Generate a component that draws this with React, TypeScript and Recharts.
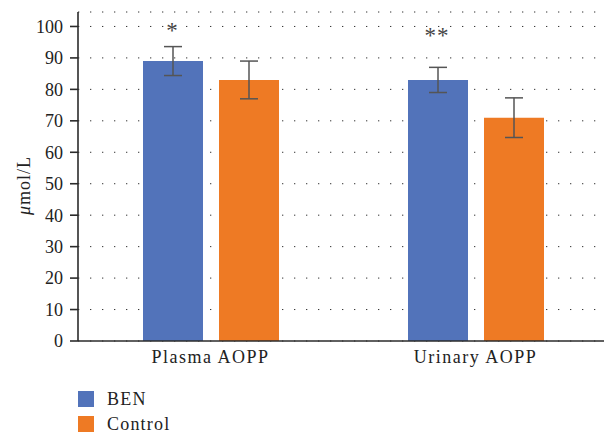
import React from 'react';
import { BarChart, Bar, XAxis, YAxis, CartesianGrid, ErrorBar, LabelList, Legend } from 'recharts';

const categories = ['Plasma AOPP', 'Urinary AOPP'];
const benValues = [89, 83];
const benErrors = [4.6, 4];
const controlValues = [83, 71];
const controlErrors = [6, 6.3];
const significance = ['*', '**'];
const significanceLevels = [99.7, 98.1];
const yTicks = [0, 10, 20, 30, 40, 50, 60, 70, 80, 90, 100];

const FONT = '"Liberation Serif", "Times New Roman", serif';
const BLUE = '#5273BA';
const ORANGE = '#EE7A24';
const AXIS = '#2b2b2b';

const data = categories.map((c, i) => ({
  category: c,
  BEN: benValues[i],
  benErr: benErrors[i],
  Control: controlValues[i],
  controlErr: controlErrors[i],
  sig: significance[i],
}));

const renderSig = (props: any) => {
  const vb = props.viewBox && props.viewBox.width !== undefined ? props.viewBox : props;
  const { x, y, width, height } = vb;
  const idx = significance.indexOf(props.value);
  if (idx < 0) return null;
  const k = height / benValues[idx];
  const base = y + height;
  const cy = base - significanceLevels[idx] * k;
  return (
    <text
      x={x + width / 2 - 1}
      y={cy + 11}
      textAnchor="middle"
      fontFamily={FONT}
      fontSize={23}
      letterSpacing={idx === 1 ? 1 : 0}
      fill="#444"
    >
      {significance[idx]}
    </text>
  );
};

const renderYLabel = (props: any) => {
  const vb = props.viewBox || { x: 0, y: 0, width: 78, height: 300 };
  const cx = vb.x + 24;
  const cy = vb.y + vb.height / 2 + 9;
  return (
    <text
      x={cx}
      y={cy}
      transform={`rotate(-90, ${cx}, ${cy})`}
      textAnchor="middle"
      dominantBaseline="central"
      fontFamily={FONT}
      fontSize={18}
      fill="#222"
      letterSpacing={1}
    >
      <tspan fontStyle="italic">μ</tspan>
      <tspan>mol/L</tspan>
    </text>
  );
};

const renderLegend = (props: any) => {
  const payload = props.payload || [];
  return (
    <div style={{ fontFamily: FONT, fontSize: 18, color: '#222' }}>
      {payload.map((p: any) => (
        <div key={p.value} style={{ display: 'flex', alignItems: 'center', height: 25 }}>
          <span
            style={{ display: 'inline-block', width: 16, height: 16, background: p.color, marginRight: 13 }}
          />
          <span style={{ letterSpacing: 1.2, lineHeight: '22px' }}>{p.value}</span>
        </div>
      ))}
    </div>
  );
};

export default function App() {
  return (
    <div style={{ position: 'absolute', left: 0, top: 0, width: 604, height: 434, overflow: 'hidden', background: '#fff' }}>
      <BarChart
        width={608}
        height={434}
        data={data}
        margin={{ top: 12, right: 0, bottom: 13, left: 0 }}
        barSize={60}
        barGap={16}
      >
        <CartesianGrid vertical={false} stroke="#333" strokeDasharray="1.3 10.7" />
        <XAxis
          dataKey="category"
          height={30}
          tickLine={false}
          tickSize={0}
          tickMargin={9}
          axisLine={{ stroke: AXIS, strokeWidth: 1.6 }}
          tick={{ fontFamily: FONT, fontSize: 18, fill: '#222', letterSpacing: 1.5 }}
        />
        <XAxis
          xAxisId="top"
          orientation="top"
          dataKey="category"
          height={0}
          tick={false}
          tickLine={false}
          axisLine={{ stroke: AXIS, strokeWidth: 1.6 }}
        />
        <YAxis
          width={78}
          domain={[0, 104.6]}
          ticks={yTicks}
          interval={0}
          tickSize={8}
          tickMargin={7}
          allowDataOverflow
          axisLine={{ stroke: AXIS, strokeWidth: 1.6 }}
          tickLine={{ stroke: AXIS, strokeWidth: 1.6 }}
          tick={{ fontFamily: FONT, fontSize: 18, fill: '#222' }}
          label={renderYLabel}
        />
        <Legend
          layout="horizontal"
          verticalAlign="bottom"
          align="left"
          content={renderLegend}
          wrapperStyle={{ left: 78, top: 386, bottom: 'auto', width: 200 }}
        />
        <Bar dataKey="BEN" name="BEN" fill={BLUE} isAnimationActive={false}>
          <ErrorBar dataKey="benErr" width={9} stroke="#555" strokeWidth={1.5} direction="y" />
          <LabelList dataKey="sig" content={renderSig} />
        </Bar>
        <Bar dataKey="Control" name="Control" fill={ORANGE} isAnimationActive={false}>
          <ErrorBar dataKey="controlErr" width={9} stroke="#555" strokeWidth={1.5} direction="y" />
        </Bar>
      </BarChart>
    </div>
  );
}
